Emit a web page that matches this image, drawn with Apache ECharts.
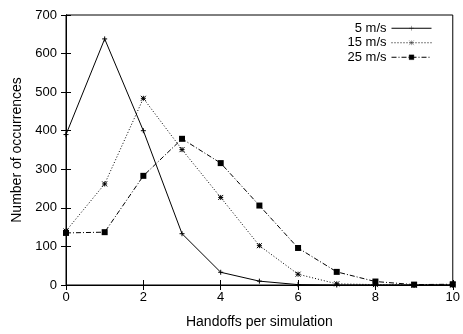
<!DOCTYPE html>
<html>
<head>
<meta charset="utf-8">
<script src="https://cdn.jsdelivr.net/npm/echarts@6/dist/echarts.min.js"></script>
<style>
  html, body { margin: 0; padding: 0; background: #fff; }
  #chart { width: 463px; height: 334px; }
</style>
</head>
<body>
<div id="chart"></div>
<script>
// Handoffs per simulation (x) and how often each count occurred, per speed
const handoffs = [0, 1, 2, 3, 4, 5, 6, 7, 8, 9, 10];
const speed5 = [390, 638, 400, 133, 33, 10, 1, 0, 0, 0, 0];
const speed15 = [140, 262, 484, 351, 227, 102, 28, 3, 1, 0, 0];
const speed25 = [135, 137, 283, 379, 316, 206, 96, 34, 9, 1, 2];
const seriesNames = ['5 m/s', '15 m/s', '25 m/s'];
const xTicks = { min: 0, max: 10, step: 2 };
const yTicks = { min: 0, max: 700, step: 100 };

const FONT = '"Liberation Sans", Arial, Helvetica, sans-serif';

const pairs = vals => handoffs.map((x, i) => [x, vals[i]]);

const plusSym = 'path://M0,5L10,5M5,0L5,10';
const starSym = 'path://M0,0L10,10M0,10L10,0M5,0L5,10M0,5L10,5';

const chart = echarts.init(document.getElementById('chart'), null, { renderer: 'canvas' });

const tickCommon = {
  axisTick: { show: true, inside: true, length: 5, lineStyle: { color: '#000', width: 1 } },
  axisLine: { show: true, lineStyle: { color: '#000', width: 1 } },
  splitLine: { show: false }
};

// legend symbols are drawn scaled, so their stroke is kept thin
const legendItem = (name, dash) => ({
  name: name,
  lineStyle: { width: 1, color: '#000', type: dash },
  itemStyle: { color: '#000', borderColor: '#000', borderWidth: 0.34 }
});

chart.setOption({
  animation: false,
  backgroundColor: '#fff',
  textStyle: { fontFamily: FONT, color: '#000' },
  grid: {
    left: 66, right: 9, top: 15, bottom: 46,
    show: true, borderColor: '#000', borderWidth: 1, backgroundColor: 'transparent'
  },
  legend: {
    orient: 'vertical',
    align: 'right',
    right: 26,
    top: 16,
    itemWidth: 40,
    itemHeight: 6,
    itemGap: 0,
    lineStyle: { width: 1 },
    itemStyle: { borderWidth: 0.34 },
    textStyle: { fontFamily: FONT, fontSize: 13, color: '#000', lineHeight: 14.5 },
    data: [
      legendItem(seriesNames[0], 'solid'),
      legendItem(seriesNames[1], [1, 2]),
      legendItem(seriesNames[2], [5, 2, 1, 2])
    ]
  },
  xAxis: [
    Object.assign({
      type: 'value', position: 'bottom',
      min: xTicks.min, max: xTicks.max, interval: xTicks.step,
      name: 'Handoffs per simulation', nameLocation: 'middle', nameGap: 30,
      nameTextStyle: { fontFamily: FONT, fontSize: 14, color: '#000' },
      axisLabel: { fontFamily: FONT, fontSize: 13, color: '#000', margin: 6 }
    }, tickCommon),
    Object.assign({
      type: 'value', position: 'top',
      min: xTicks.min, max: xTicks.max, interval: xTicks.step,
      axisLabel: { show: false }
    }, tickCommon)
  ],
  yAxis: [
    Object.assign({
      type: 'value', position: 'left',
      min: yTicks.min, max: yTicks.max, interval: yTicks.step,
      name: 'Number of occurrences', nameLocation: 'middle', nameGap: 42,
      nameTextStyle: { fontFamily: FONT, fontSize: 14, color: '#000' },
      axisLabel: { fontFamily: FONT, fontSize: 13, color: '#000', margin: 9 }
    }, tickCommon),
    Object.assign({
      type: 'value', position: 'right',
      min: yTicks.min, max: yTicks.max, interval: yTicks.step,
      axisLabel: { show: false }
    }, tickCommon)
  ],
  series: [
    {
      name: seriesNames[0], type: 'line', data: pairs(speed5),
      symbol: plusSym, symbolSize: 5,
      lineStyle: { color: '#000', width: 1, type: 'solid' },
      itemStyle: { color: '#000', borderColor: '#000', borderWidth: 1 }
    },
    {
      name: seriesNames[1], type: 'line', data: pairs(speed15),
      symbol: starSym, symbolSize: 5,
      lineStyle: { color: '#000', width: 1, type: [1, 2] },
      itemStyle: { color: '#000', borderColor: '#000', borderWidth: 1 }
    },
    {
      name: seriesNames[2], type: 'line', data: pairs(speed25),
      symbol: 'rect', symbolSize: 6,
      lineStyle: { color: '#000', width: 1, type: [5, 2, 1, 2] },
      itemStyle: { color: '#000', borderWidth: 0 }
    }
  ]
});
</script>
</body>
</html>
